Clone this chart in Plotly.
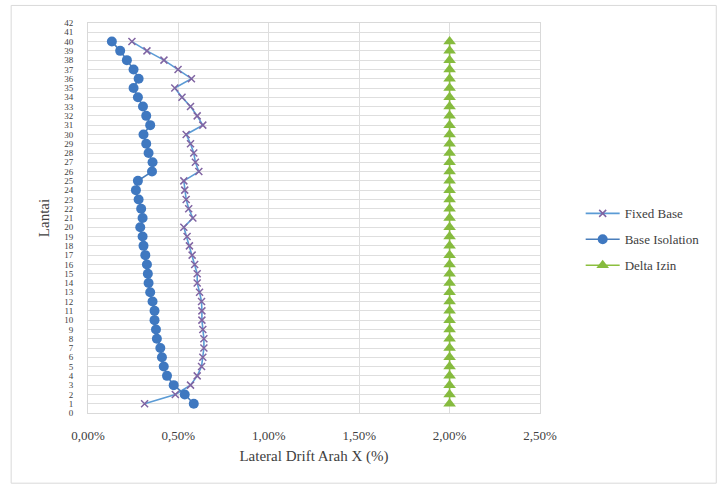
import plotly.graph_objects as go

# Storey numbers (1 = lowest floor, 40 = roof)
lantai = list(range(1, 41))

# Lateral drift in X direction (%), listed from floor 1 upward
fixed_base = [0.313, 0.483, 0.567, 0.604, 0.628, 0.635, 0.641, 0.641, 0.635, 0.630,
              0.630, 0.628, 0.617, 0.604, 0.604, 0.590, 0.576, 0.561, 0.548, 0.530,
              0.580, 0.557, 0.543, 0.535, 0.530, 0.613, 0.594, 0.585, 0.567, 0.543,
              0.635, 0.604, 0.567, 0.520, 0.480, 0.572, 0.498, 0.420, 0.326, 0.243]
base_isolation = [0.585, 0.535, 0.474, 0.437, 0.419, 0.409, 0.400, 0.381, 0.376, 0.368,
                  0.368, 0.357, 0.344, 0.335, 0.331, 0.326, 0.317, 0.307, 0.302, 0.289,
                  0.302, 0.294, 0.280, 0.265, 0.276, 0.354, 0.357, 0.335, 0.322, 0.307,
                  0.344, 0.322, 0.304, 0.276, 0.252, 0.280, 0.252, 0.215, 0.178, 0.132]
delta_izin = [2.00] * 40

x_ticks = [0.0, 0.5, 1.0, 1.5, 2.0, 2.5]
x_tick_labels = ["0,00%", "0,50%", "1,00%", "1,50%", "2,00%", "2,50%"]

FONT = "Liberation Serif"

fig = go.Figure()

fig.add_trace(go.Scatter(
    x=fixed_base, y=lantai, name="Fixed Base", mode="lines+markers", legendgroup="fb",
    line=dict(color="#5b9bd5", width=1.6),
    marker=dict(symbol="x-thin", size=7, line=dict(color="#8064a2", width=1.5)),
))
fig.add_trace(go.Scatter(
    x=base_isolation, y=lantai, name="Base Isolation", mode="lines+markers", legendgroup="bi",
    line=dict(color="#4a7ebb", width=1.6),
    marker=dict(symbol="circle", size=10, color="#3f78c0"),
))
fig.add_trace(go.Scatter(
    x=delta_izin, y=lantai, name="Delta Izin", mode="lines+markers", legendgroup="di",
    line=dict(color="#8cbf3f", width=1.6),
    marker=dict(symbol="triangle-up", size=11, color="#86bb3e"),
))

axis_common = dict(
    showgrid=True, gridcolor="#dedede", gridwidth=1,
    showline=True, linecolor="#d9d9d9", linewidth=1, mirror=True,
    zeroline=False, ticks="",
)

fig.update_xaxes(
    range=[0, 2.5], tickvals=x_ticks, ticktext=x_tick_labels,
    tickfont=dict(family=FONT, size=13, color="#404040"), ticklabelstandoff=10,
    title=dict(text="Lateral Drift Arah X (%)", font=dict(family=FONT, size=15, color="#404040"),
               standoff=8),
    **axis_common,
)
fig.update_yaxes(
    range=[0, 42], dtick=1, tick0=0,
    tickfont=dict(family=FONT, size=9, color="#404040"), ticklabelstandoff=12,
    title=dict(text="Lantai", font=dict(family=FONT, size=15, color="#404040"), standoff=10),
    **axis_common,
)

# light frame around the whole chart
fig.add_shape(type="rect", xref="paper", yref="paper",
              x0=-0.170, x1=1.39, y0=-0.18, y1=1.045,
              line=dict(color="#d9d9d9", width=1), fillcolor="rgba(0,0,0,0)", layer="below")

fig.update_layout(
    width=718, height=487,
    margin=dict(l=88, r=178, t=23, b=74, autoexpand=False),
    paper_bgcolor="white", plot_bgcolor="white",
    separators=",.",
    font=dict(family=FONT, size=12, color="#404040"),
    legend=dict(x=1.09, y=0.445, xanchor="left", yanchor="middle",
                font=dict(family=FONT, size=13, color="#404040"),
                tracegroupgap=6, itemwidth=34, bgcolor="rgba(0,0,0,0)"),
)

fig.write_html("out.html")
